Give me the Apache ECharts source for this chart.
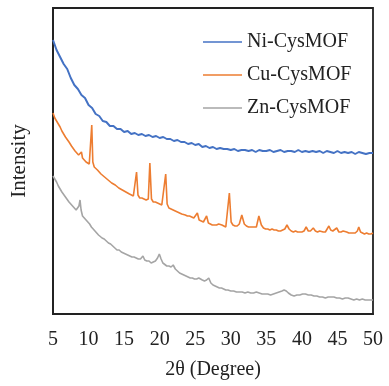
<!DOCTYPE html>
<html><head><meta charset="utf-8">
<script src="https://cdn.jsdelivr.net/npm/echarts@6/dist/echarts.min.js"></script>
<style>html,body{margin:0;padding:0;background:#fff}#c{width:389px;height:386px}</style>
</head><body><div id="c"></div>
<script>
const seriesNames = ['Ni-CysMOF', 'Cu-CysMOF', 'Zn-CysMOF'];
const xTicks = [5, 10, 15, 20, 25, 30, 35, 40, 45, 50];

const niData = [[5.0,274],[5.5,264],[6.0,257],[6.5,250],[7.0,245],[7.5,236],[8.0,229],[8.5,225],[9.0,219],[9.5,216],[10.0,209],[10.5,206],[11.0,200],[11.5,198],[12.0,193],[12.5,192],[13.0,188],[13.5,188],[14.0,185],[14.5,185],[15.0,182],[15.5,183],[16.0,180],[16.5,181],[17.0,179],[17.5,180],[18.0,178],[18.5,179],[19.0,177],[19.5,178],[20.0,176],[20.5,177],[21.0,175],[21.5,175],[22.0,173],[22.5,174],[23.0,172],[23.5,172],[24.0,170],[24.5,171],[25.0,169],[25.5,170],[26.0,167],[26.5,168],[27.0,166],[27.5,167],[28.0,165],[28.5,166],[29.0,165],[29.5,165],[30.0,164],[30.5,165],[31.0,163],[31.5,164],[32.0,164],[32.5,163],[33.0,164],[33.5,162],[34.0,164],[34.5,163],[35.0,163],[35.5,164],[36.0,162],[36.5,163],[37.0,164],[37.5,162],[38.0,163],[38.5,163],[39.0,162],[39.5,164],[40.0,162],[40.5,163],[41.0,162],[41.5,163],[42.0,162],[42.5,163],[43.0,161],[43.5,163],[44.0,162],[44.5,161],[45.0,163],[45.5,161],[46.0,162],[46.5,161],[47.0,162],[47.5,160],[48.0,162],[48.5,161],[49.0,160],[49.5,161],[50.0,161]];

const cuData = [[5.0,201],[5.25,196],[5.5,194],[5.75,190],[6.0,187],[6.25,183],[6.5,181],[6.75,177],[7.0,175],[7.25,172],[7.4,174],[7.6,168],[7.85,166],[8.1,163],[8.35,161],[8.6,159],[8.8,157],[9.0,162],[9.15,156],[9.4,155],[9.65,152],[9.9,152],[10.1,150],[10.3,152],[10.45,189],[10.6,152],[10.8,147],[11.0,146],[11.25,144],[11.5,142],[11.75,140],[12.0,139],[12.25,137],[12.5,135],[12.75,134],[13.0,133],[13.25,131],[13.5,131],[13.75,129],[14.0,128],[14.25,126],[14.5,126],[14.75,124],[15.0,123],[15.25,122],[15.5,120],[15.75,120],[16.0,118],[16.3,118],[16.55,118],[16.75,142],[16.95,119],[17.2,116],[17.5,116],[17.8,115],[18.1,114],[18.4,115],[18.62,151],[18.85,115],[19.1,112],[19.4,112],[19.7,111],[20.0,110],[20.3,109],[20.55,109],[20.85,140],[21.05,110],[21.3,106],[21.6,105],[21.9,104],[22.2,103],[22.5,102],[22.8,101],[23.1,100],[23.3,102],[23.6,99],[23.9,98],[24.2,98],[24.5,97],[24.8,96],[25.05,95],[25.3,101],[25.55,94],[25.85,93],[26.15,92],[26.4,93],[26.6,98],[26.85,91],[27.1,90],[27.4,89],[27.7,89],[28.0,89],[28.3,90],[28.5,92],[28.75,89],[29.0,88],[29.3,87],[29.55,88],[29.8,121],[30.05,92],[30.3,89],[30.6,88],[30.9,88],[31.2,90],[31.55,99],[31.9,90],[32.2,88],[32.5,87],[32.8,87],[33.0,89],[33.3,87],[33.6,87],[33.95,98],[34.3,89],[34.6,86],[34.9,85],[35.2,85],[35.5,84],[35.8,85],[36.1,84],[36.4,84],[36.7,83],[37.0,83],[37.3,84],[37.6,85],[37.9,89],[38.2,85],[38.5,83],[38.8,82],[39.1,83],[39.4,82],[39.7,82],[40.0,82],[40.3,83],[40.6,87],[40.9,83],[41.2,83],[41.6,86],[41.9,83],[42.2,82],[42.5,83],[42.75,85],[43.0,82],[43.3,82],[43.55,84],[43.8,88],[44.05,84],[44.35,83],[44.6,83],[44.9,86],[45.2,82],[45.5,82],[45.8,83],[46.0,84],[46.3,82],[46.6,81],[46.9,81],[47.2,81],[47.5,81],[47.8,83],[48.0,87],[48.25,82],[48.5,81],[48.8,80],[49.1,81],[49.4,80],[49.7,80],[50.0,81]];

const znData = [[5.0,138],[5.25,135],[5.5,132],[5.75,128],[6.0,125],[6.25,122],[6.5,120],[6.75,117],[7.0,115],[7.25,112],[7.5,110],[7.75,108],[8.0,106],[8.25,104],[8.45,103],[8.65,108],[8.8,114],[8.95,104],[9.15,98],[9.4,96],[9.65,94],[9.9,92],[10.15,90],[10.4,87],[10.65,86],[10.9,83],[11.15,82],[11.4,79],[11.65,78],[11.9,76],[12.2,75],[12.5,73],[12.8,71],[13.1,70],[13.4,68],[13.7,66],[14.0,64],[14.3,64],[14.6,62],[14.9,61],[15.2,60],[15.5,59],[15.8,58],[16.1,57],[16.4,57],[16.7,56],[17.0,55],[17.3,55],[17.65,58],[17.9,54],[18.2,53],[18.5,53],[18.8,51],[19.1,52],[19.4,53],[19.7,56],[19.95,60],[20.2,55],[20.45,51],[20.7,50],[21.0,48],[21.3,48],[21.6,47],[21.9,49],[22.2,45],[22.5,43],[22.8,41],[23.1,40],[23.4,39],[23.7,38],[24.0,37],[24.3,36],[24.6,36],[24.9,35],[25.2,35],[25.5,36],[25.75,37],[26.0,34],[26.3,33],[26.6,34],[26.9,36],[27.2,31],[27.5,29],[27.8,28],[28.1,27],[28.4,26],[28.7,26],[29.0,25],[29.3,24],[29.6,24],[30.0,23],[30.4,23],[30.8,22],[31.2,22],[31.6,22],[32.0,21],[32.4,22],[32.8,21],[33.2,21],[33.6,22],[34.0,21],[34.4,20],[34.8,20],[35.2,20],[35.6,19],[36.0,20],[36.4,21],[36.8,22],[37.2,23],[37.5,24],[37.8,23],[38.1,21],[38.5,19],[38.9,18],[39.3,19],[39.7,19],[40.1,20],[40.5,20],[40.9,19],[41.3,19],[41.7,18],[42.1,18],[42.5,17],[42.9,17],[43.3,16],[43.7,17],[44.1,17],[44.5,17],[44.9,16],[45.3,16],[45.7,15],[46.1,16],[46.5,16],[46.9,15],[47.3,14],[47.7,15],[48.1,14],[48.5,15],[48.9,14],[49.3,14],[49.7,14],[50.0,14]];

const colors = ['#4472C4', '#ED7D31', '#A5A5A5'];
const FONT = "'Liberation Serif', 'Times New Roman', serif";

const chart = echarts.init(document.getElementById('c'), null, {renderer: 'canvas'});
chart.setOption({
  animation: false,
  color: colors,
  grid: {left: 53, right: 16, top: 8, bottom: 72, show: true, borderColor: '#222', borderWidth: 1.8, backgroundColor: 'transparent'},
  legend: {
    orient: 'vertical', left: 198, top: 27, itemGap: 13,
    icon: 'rect', itemWidth: 39, itemHeight: 1.5,
    data: seriesNames,
    textStyle: {fontFamily: FONT, fontSize: 20, color: '#222', lineHeight: 20}
  },
  xAxis: {
    type: 'value', min: 5, max: 50, interval: 5,
    axisLine: {show: true, lineStyle: {color: '#222', width: 1.8}},
    axisTick: {show: false},
    splitLine: {show: false},
    axisLabel: {fontFamily: FONT, fontSize: 20, color: '#222', margin: 16,
      formatter: v => xTicks.includes(v) ? String(v) : ''},
    name: '2θ (Degree)', nameLocation: 'middle', nameGap: 46,
    nameTextStyle: {fontFamily: FONT, fontSize: 20, color: '#222'}
  },
  yAxis: {
    type: 'value', min: 0, max: 306,
    axisLine: {show: true, lineStyle: {color: '#222', width: 1.8}},
    axisTick: {show: false}, axisLabel: {show: false}, splitLine: {show: false},
    name: 'Intensity', nameLocation: 'middle', nameGap: 23,
    nameTextStyle: {fontFamily: FONT, fontSize: 21, color: '#222'}
  },
  series: [
    {name: seriesNames[0], type: 'line', data: niData, symbol: 'none', lineStyle: {width: 2}},
    {name: seriesNames[1], type: 'line', data: cuData, symbol: 'none', lineStyle: {width: 1.6}},
    {name: seriesNames[2], type: 'line', data: znData, symbol: 'none', lineStyle: {width: 1.6}}
  ]
});
</script></body></html>
